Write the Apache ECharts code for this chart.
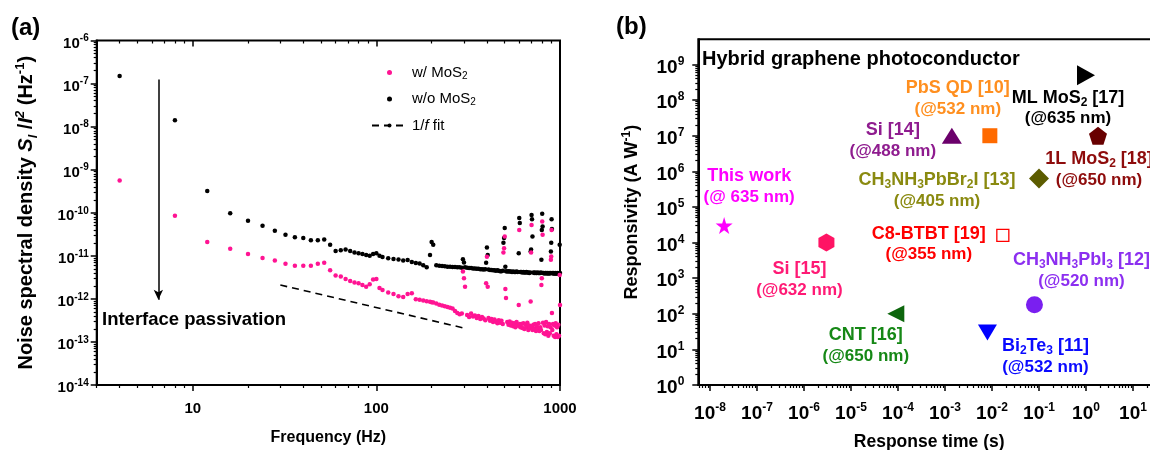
<!DOCTYPE html>
<html>
<head>
<meta charset="utf-8">
<script src="https://cdn.jsdelivr.net/npm/echarts@6/dist/echarts.min.js"></script>
<style>
  html, body { margin: 0; padding: 0; background: #fff; }
  #chart { width: 1150px; height: 450px; }
</style>
</head>
<body>
<div id="chart"></div>
<script>
// ---------- panel (a): noise spectra ----------
const freq = [
  4, 8, 12, 16, 20, 24, 28, 32, 36, 40, 44, 48, 52, 56, 60, 64, 68, 72, 76, 80, 84, 88, 92, 96, 100, 104,
  108, 116, 124, 132, 140, 148, 156, 164, 172, 180, 188, 196, 200, 204, 212, 220, 228, 236, 244, 252, 260, 268, 276, 284, 292,
  296, 300, 304, 312, 320, 328, 336, 344, 352, 360, 368, 376, 384, 392, 396, 400, 404, 408, 416, 424, 432, 440, 448, 456, 464, 472, 480, 488,
  492, 496, 500, 504, 508, 516, 524, 532, 540, 548, 556, 564, 572, 580, 588, 596, 600, 604,
  608, 616, 624, 632, 640, 648, 656, 664, 672, 680, 688, 692, 696, 700, 704, 708,
  716, 724, 732, 740, 748, 756, 764, 772, 780, 788, 792, 796, 800, 804,
  808, 816, 824, 832, 840, 848, 856, 864, 872, 880, 888, 892, 896, 900, 904,
  908, 916, 924, 932, 940, 948, 956, 964, 972, 980, 988, 996, 1000
];
// w/o MoS2 (black)
const noiseWithout = [
  1.5e-7, 1.4e-8, 3.2e-10, 9.8e-11, 6.5e-11, 5.0e-11, 3.8e-11, 3.1e-11, 2.7e-11, 2.6e-11, 2.3e-11, 2.3e-11, 2.4e-11, 1.8e-11, 1.3e-11, 1.35e-11, 1.4e-11, 1.3e-11, 1.2e-11, 1.15e-11, 1.1e-11, 1.05e-11, 1.0e-11, 1.1e-11, 1.15e-11, 1.0e-11,
  9.4e-12, 8.8e-12, 8.4e-12, 8.2e-12, 7.8e-12, 8.0e-12, 7.2e-12, 6.8e-12, 6.6e-12, 6.0e-12, 5.4e-12, 1.05e-11, 2.1e-11, 1.8e-11, 6.0e-12, 5.9e-12, 5.8e-12, 5.7e-12, 5.6e-12, 5.6e-12, 5.5e-12, 5.5e-12, 5.4e-12, 5.4e-12, 5.3e-12,
  8.3e-12, 7.0e-12, 5.4e-12, 5.3e-12, 5.2e-12, 5.2e-12, 5.1e-12, 5.1e-12, 5.0e-12, 5.0e-12, 4.9e-12, 4.9e-12, 4.8e-12, 4.9e-12, 6.9e-12, 1.55e-11, 1.05e-11, 4.8e-12, 4.7e-12, 4.7e-12, 4.6e-12, 4.6e-12, 4.5e-12, 4.6e-12, 4.5e-12, 4.4e-12, 4.4e-12, 4.5e-12,
  2.0e-11, 2.6e-11, 4.4e-11, 5.6e-12, 4.4e-12, 4.3e-12, 4.4e-12, 4.3e-12, 4.3e-12, 4.2e-12, 4.3e-12, 4.2e-12, 4.2e-12, 4.3e-12, 4.2e-12, 1.15e-11, 7.6e-11, 5.8e-11,
  4.2e-12, 4.2e-12, 4.1e-12, 4.2e-12, 4.1e-12, 4.1e-12, 4.2e-12, 4.1e-12, 4.1e-12, 4.0e-12, 4.1e-12, 1.26e-11, 1.4e-11, 8.9e-11, 7.1e-11, 2.8e-11,
  4.1e-12, 4.0e-12, 4.1e-12, 4.0e-12, 4.0e-12, 4.1e-12, 4.0e-12, 4.0e-12, 4.0e-12, 4.1e-12, 8.1e-12, 4.0e-11, 9.5e-11, 4.8e-11,
  4.0e-12, 4.0e-12, 3.9e-12, 4.0e-12, 4.0e-12, 3.9e-12, 4.0e-12, 3.9e-12, 4.0e-12, 3.9e-12, 4.0e-12, 1.26e-11, 2.0e-11, 7.1e-11, 4.2e-11,
  4.0e-12, 3.9e-12, 4.0e-12, 3.9e-12, 3.9e-12, 4.0e-12, 3.9e-12, 3.9e-12, 4.0e-12, 3.9e-12, 3.9e-12, 1.8e-11, 4.0e-12
];
// w/ MoS2 (pink)
const noiseWith = [
  5.6e-10, 8.5e-11, 2.1e-11, 1.45e-11, 1.1e-11, 8.9e-12, 7.8e-12, 6.5e-12, 5.9e-12, 5.9e-12, 5.9e-12, 6.5e-12, 6.9e-12, 4.6e-12, 3.5e-12, 3.3e-12, 2.9e-12, 2.6e-12, 2.4e-12, 2.3e-12, 2.1e-12, 1.9e-12, 2.2e-12, 2.8e-12, 2.9e-12, 1.8e-12,
  1.6e-12, 1.4e-12, 1.3e-12, 1.15e-12, 1.1e-12, 1.3e-12, 1.35e-12, 9.8e-13, 9.5e-13, 9.2e-13, 8.8e-13, 8.6e-13, 8.4e-13, 8.2e-13, 7.8e-13, 7.3e-13, 7.0e-13, 6.7e-13, 6.5e-13, 6.2e-13, 6.0e-13, 5.2e-13, 4.7e-13, 4.4e-13, 4.6e-13,
  4.3e-12, 3.0e-12, 1.9e-12, 4.2e-13, 3.8e-13, 4.6e-13, 3.9e-13, 4.1e-13, 3.6e-13, 4.0e-13, 3.4e-13, 3.8e-13, 3.5e-13, 3.2e-13, 2.3e-12, 9.5e-12, 1.9e-12, 3.6e-13, 3.1e-13, 3.4e-13, 2.9e-13, 3.3e-13, 3.0e-13, 2.7e-13, 3.2e-13, 2.8e-13, 3.1e-13, 2.6e-13,
  1.2e-11, 1.5e-11, 2.8e-11, 1.7e-12, 1.05e-12, 2.9e-13, 2.5e-13, 3.0e-13, 2.4e-13, 2.8e-13, 2.3e-13, 2.7e-13, 2.2e-13, 2.9e-13, 2.4e-13, 7.2e-13, 4.0e-11, 2.6e-13,
  2.2e-13, 2.6e-13, 2.1e-13, 2.7e-13, 2.0e-13, 2.5e-13, 2.2e-13, 2.8e-13, 1.9e-13, 2.4e-13, 2.1e-13, 8.7e-13, 1.2e-11, 5.2e-11, 2.3e-13, 1.9e-13,
  2.5e-13, 2.0e-13, 2.6e-13, 1.8e-13, 2.3e-13, 2.0e-13, 2.7e-13, 1.8e-13, 2.2e-13, 1.9e-13, 2.1e-12, 3.0e-12, 6.3e-11, 3.1e-11,
  2.8e-13, 1.6e-13, 2.4e-13, 1.5e-13, 2.9e-13, 1.7e-13, 2.3e-13, 1.4e-13, 2.6e-13, 1.6e-13, 2.2e-13, 8.1e-12, 9.6e-12, 4.0e-11, 4.7e-13,
  1.9e-13, 2.6e-13, 1.4e-13, 2.4e-13, 1.3e-13, 2.7e-13, 1.5e-13, 2.2e-13, 1.3e-13, 2.5e-13, 1.4e-13, 3.6e-12, 7.2e-13
];
const fitFreq = [30, 300];
const fitNoise = [2.1e-12, 2.1e-13];
const arrowFreq = [6.5, 6.5];
const arrowNoise = [1.25e-7, 9.5e-13];

const aFreqTicks = [10, 100, 1000];
const aNoiseTicks = [1e-14, 1e-13, 1e-12, 1e-11, 1e-10, 1e-9, 1e-8, 1e-7, 1e-6];

// ---------- panel (b): responsivity vs response time ----------
const devNames = [
  'This work', 'Si [15]', 'CNT [16]', 'Bi{sub|2}Te{sub|3} [11]', 'CH{sub|3}NH{sub|3}PbI{sub|3} [12]',
  'C8-BTBT [19]', 'Si [14]', 'PbS QD [10]', 'ML MoS{sub|2} [17]', '1L MoS{sub|2} [18]', 'CH{sub|3}NH{sub|3}PbBr{sub|2}I [13]'
];
const devWavelengths = [
  '(@ 635 nm)', '(@632 nm)', '(@650 nm)', '(@532 nm)', '(@520 nm)',
  '(@355 nm)', '(@488 nm)', '(@532 nm)', '(@635 nm)', '(@650 nm)', '(@405 nm)'
];
const devTimes = [2e-8, 3e-6, 9e-5, 8e-3, 0.08, 0.017, 1.4e-3, 9e-3, 1, 1.8, 0.1];
const devResp = [3e4, 1e4, 100, 30, 180, 1.6e4, 1e7, 1e7, 5e8, 1e7, 6.3e5];

const bTimeTicks = [1e-8, 1e-7, 1e-6, 1e-5, 1e-4, 1e-3, 1e-2, 1e-1, 1, 10, 100];
const bRespTicks = [1, 10, 100, 1e3, 1e4, 1e5, 1e6, 1e7, 1e8, 1e9];

// marker look for each device (same order as devNames)
const devStyles = [
  { symbol: 'path://M50,0 L61,35 L98,35 L68,57 L79,91 L50,70 L21,91 L32,57 L2,35 L39,35 Z', size: 17, fill: '#ff00ff', text: '#ff00ff', offset: [25, -39] },
  { symbol: 'path://M50,0 L93,25 L93,75 L50,100 L7,75 L7,25 Z', size: [16, 18], fill: '#ff1464', text: '#ff1a75', offset: [-27, 37] },
  { symbol: 'path://M0,50 L100,0 L100,100 Z', size: [17, 17], fill: '#0d660d', text: '#168816', offset: [-30, 32] },
  { symbol: 'path://M0,0 L100,0 L50,100 Z', size: [19, 16], fill: '#0000ff', text: '#0a0aff', offset: [58, 24] },
  { symbol: 'circle', size: 17, fill: '#7a1ff0', text: '#8c2ff0', offset: [47, -34] },
  { symbol: 'rect', size: 12, fill: '#ffffff', border: '#ff0000', text: '#ff0000', offset: [-74, 9] },
  { symbol: 'triangle', size: [20, 16], fill: '#6b006b', text: '#8f1c8f', offset: [-59, 5] },
  { symbol: 'rect', size: 15, fill: '#ff6a00', text: '#ff8f1f', offset: [-32, -37] },
  { symbol: 'path://M0,0 L100,50 L0,100 Z', size: [18, 20], fill: '#000000', text: '#000000', offset: [-18, 33] },
  { symbol: 'path://M50,0 L98,35 L79,91 L21,91 L2,35 Z', size: 18, fill: '#680000', text: '#8e0c0c', offset: [1, 34] },
  { symbol: 'diamond', size: 20, fill: '#5c5c00', text: '#8a8a10', offset: [-102, 12] }
];

const FONT = 'Liberation Sans, Arial, sans-serif';

function minorTicks(lo, hi) {
  const out = [];
  for (let e = lo; e < hi; e++) {
    for (let k = 2; k <= 9; k++) out.push(k * Math.pow(10, e));
  }
  return out;
}

const powLabel = v => '{b|10}{s|' + Math.round(Math.log10(v)) + '}';

function tickAxis(extra) {
  // a bare axis that only draws ticks (used for minor ticks / mirrored sides)
  return Object.assign({
    type: 'log',
    axisLine: { show: false, onZero: false },
    axisLabel: { show: false },
    splitLine: { show: false },
    silent: true
  }, extra);
}

var chart = echarts.init(document.getElementById('chart'));

const legendText = {
  'w/ MoS2': 'w/ MoS{sub|2}',
  'w/o MoS2': 'w/o MoS{sub|2}',
  '1/f fit': '1/{it|f} fit'
};

const option = {
  animation: false,
  grid: [
    { left: 96.7, top: 40.5, width: 463.3, height: 344.5, show: true, borderColor: '#000', borderWidth: 2, outerBoundsMode: 'none' },
    { left: 698.3, top: 39.3, width: 481.7, height: 345.7, show: true, borderColor: '#000', borderWidth: 2, outerBoundsMode: 'none' }
  ],
  legend: {
    data: ['w/ MoS2', 'w/o MoS2', '1/f fit'],
    orient: 'vertical',
    left: 366, top: 59,
    itemWidth: 35, itemHeight: 5, itemGap: 9.5, itemTextGap: 6,
    selectedMode: false,
    formatter: n => legendText[n],
    textStyle: {
      fontFamily: FONT, fontSize: 15, color: '#000', lineHeight: 17,
      rich: {
        sub: { fontSize: 10, verticalAlign: 'bottom', lineHeight: 17 },
        it: { fontStyle: 'italic', fontSize: 15 }
      }
    }
  },
  xAxis: [
    {
      type: 'log', gridIndex: 0, position: 'bottom', min: 3, max: 1000,
      name: 'Frequency (Hz)', nameLocation: 'middle', nameGap: 45,
      nameTextStyle: { fontFamily: FONT, fontSize: 16, fontWeight: 'bold', color: '#000' },
      axisLine: { show: true, onZero: false, lineStyle: { color: '#000', width: 2 } },
      axisTick: { show: true, customValues: aFreqTicks, length: 6, lineStyle: { color: '#000', width: 1.5 } },
      axisLabel: { customValues: aFreqTicks, margin: 16, formatter: v => String(v), fontFamily: FONT, fontSize: 15, fontWeight: 'bold', color: '#000' },
      splitLine: { show: false }
    },
    tickAxis({ gridIndex: 0, position: 'bottom', min: 3, max: 1000,
      axisTick: { show: true, customValues: minorTicks(0, 3), length: 3, lineStyle: { color: '#000', width: 1.2 } } }),
    tickAxis({ gridIndex: 0, position: 'top', min: 3, max: 1000,
      axisTick: { show: true, inside: true, customValues: aFreqTicks, length: 6, lineStyle: { color: '#000', width: 1.5 } } }),
    tickAxis({ gridIndex: 0, position: 'top', min: 3, max: 1000,
      axisTick: { show: true, inside: true, customValues: minorTicks(0, 3), length: 3, lineStyle: { color: '#000', width: 1.2 } } }),
    {
      type: 'log', gridIndex: 1, position: 'bottom', min: 5.64e-9, max: 100,
      name: 'Response time (s)', nameLocation: 'middle', nameGap: 48,
      nameTextStyle: { fontFamily: FONT, fontSize: 17.5, fontWeight: 'bold', color: '#000', padding: [0, 20, 0, 0] },
      axisLine: { show: true, onZero: false, lineStyle: { color: '#000', width: 2 } },
      axisTick: { show: true, customValues: bTimeTicks, length: 6, lineStyle: { color: '#000', width: 1.5 } },
      axisLabel: {
        customValues: bTimeTicks, margin: 14, formatter: powLabel, padding: [3, 0, 0, 0],
        fontFamily: FONT, fontSize: 19, fontWeight: 'bold', color: '#000',
        rich: { b: { fontSize: 19, fontWeight: 'bold', lineHeight: 24 }, s: { fontSize: 12, fontWeight: 'bold', verticalAlign: 'top', lineHeight: 24 } }
      },
      splitLine: { show: false }
    },
    tickAxis({ gridIndex: 1, position: 'bottom', min: 5.64e-9, max: 100,
      axisTick: { show: true, customValues: minorTicks(-9, 2), length: 3, lineStyle: { color: '#000', width: 1.2 } } })
  ],
  yAxis: [
    {
      type: 'log', gridIndex: 0, position: 'left', min: 1e-14, max: 1e-6,
      name: 'Noise spectral density {i|S}{isub|I} /{i|I}{isup|2} (Hz{sup|-1})',
      nameLocation: 'middle', nameGap: 57, nameRotate: 90,
      nameTextStyle: {
        fontFamily: FONT, fontSize: 20, fontWeight: 'bold', color: '#000', lineHeight: 26,
        rich: {
          i: { fontStyle: 'italic', fontWeight: 'bold', fontSize: 20, lineHeight: 26 },
          isub: { fontStyle: 'italic', fontWeight: 'bold', fontSize: 13, verticalAlign: 'bottom', lineHeight: 26 },
          isup: { fontStyle: 'italic', fontWeight: 'bold', fontSize: 13, verticalAlign: 'top', lineHeight: 26 },
          sup: { fontWeight: 'bold', fontSize: 13, verticalAlign: 'top', lineHeight: 26 }
        }
      },
      axisLine: { show: true, onZero: false, lineStyle: { color: '#000', width: 2 } },
      axisTick: { show: true, customValues: aNoiseTicks, length: 6, lineStyle: { color: '#000', width: 1.5 } },
      axisLabel: {
        customValues: aNoiseTicks, margin: 8, formatter: powLabel, padding: [6, 0, 0, 0],
        fontFamily: FONT, fontSize: 15, fontWeight: 'bold', color: '#000',
        rich: { b: { fontSize: 15, fontWeight: 'bold', lineHeight: 20 }, s: { fontSize: 10, fontWeight: 'bold', verticalAlign: 'top', lineHeight: 20 } }
      },
      splitLine: { show: false }
    },
    tickAxis({ gridIndex: 0, position: 'left', min: 1e-14, max: 1e-6,
      axisTick: { show: true, customValues: minorTicks(-14, -6), length: 3, lineStyle: { color: '#000', width: 1.2 } } }),
    {
      type: 'log', gridIndex: 1, position: 'left', min: 1, max: 5.1e9,
      name: 'Responsivity (A W{sup|-1})', nameLocation: 'middle', nameGap: 54, nameRotate: 90,
      nameTextStyle: {
        fontFamily: FONT, fontSize: 18, fontWeight: 'bold', color: '#000', lineHeight: 24,
        rich: { sup: { fontSize: 12, fontWeight: 'bold', verticalAlign: 'top', lineHeight: 24 } }
      },
      axisLine: { show: true, onZero: false, lineStyle: { color: '#000', width: 2 } },
      axisTick: { show: true, customValues: bRespTicks, length: 6, lineStyle: { color: '#000', width: 1.5 } },
      axisLabel: {
        customValues: bRespTicks, margin: 14, formatter: powLabel, padding: [6, 0, 0, 0],
        fontFamily: FONT, fontSize: 19, fontWeight: 'bold', color: '#000',
        rich: { b: { fontSize: 19, fontWeight: 'bold', lineHeight: 24 }, s: { fontSize: 12, fontWeight: 'bold', verticalAlign: 'top', lineHeight: 24 } }
      },
      splitLine: { show: false }
    },
    tickAxis({ gridIndex: 1, position: 'left', min: 1, max: 5.1e9,
      axisTick: { show: true, customValues: minorTicks(0, 9), length: 3, lineStyle: { color: '#000', width: 1.2 } } })
  ],
  series: [
    {
      name: 'w/o MoS2', type: 'scatter', xAxisIndex: 0, yAxisIndex: 0,
      data: freq.map((f, i) => [f, noiseWithout[i]]),
      symbolSize: 4.5, itemStyle: { color: '#000', opacity: 1 }, silent: true
    },
    {
      name: 'w/ MoS2', type: 'scatter', xAxisIndex: 0, yAxisIndex: 0,
      data: freq.map((f, i) => [f, noiseWith[i]]),
      symbolSize: 4.5, itemStyle: { color: '#ff1493', opacity: 1 }, silent: true
    },
    {
      name: '1/f fit', type: 'line', xAxisIndex: 0, yAxisIndex: 0,
      data: fitFreq.map((f, i) => [f, fitNoise[i]]),
      symbol: 'none', silent: true,
      lineStyle: { color: '#000', width: 1.6, type: [7, 5] },
      itemStyle: { color: '#000' },
      markLine: {
        silent: true, symbol: ['none', 'arrow'], symbolSize: [7, 10],
        label: { show: false },
        lineStyle: { color: '#000', width: 1.5, type: 'solid' },
        data: [[{ coord: [arrowFreq[0], arrowNoise[0]] }, { coord: [arrowFreq[1], arrowNoise[1]] }]]
      }
    },
    {
      name: 'devices', type: 'scatter', xAxisIndex: 4, yAxisIndex: 2, silent: true,
      data: devNames.map((n, i) => {
        const st = devStyles[i];
        return {
          value: [devTimes[i], devResp[i]],
          symbol: st.symbol,
          symbolSize: st.size,
          itemStyle: { color: st.fill, opacity: 1, borderColor: st.border || st.fill, borderWidth: st.border ? 1.3 : 0 },
          label: {
            show: true, position: 'inside', offset: st.offset, opacity: 1,
            formatter: n + '\n{w|' + devWavelengths[i] + '}',
            color: st.text, fontFamily: FONT, fontSize: 18, fontWeight: 'bold', lineHeight: 21,
            rich: {
              sub: { fontSize: 12, fontWeight: 'bold', verticalAlign: 'bottom', lineHeight: 21 },
              w: { fontSize: 17, fontWeight: 'bold', lineHeight: 21 }
            }
          }
        };
      })
    }
  ],
  graphic: [
    { type: 'text', x: 11, y: 28, style: { text: '(a)', font: 'bold 24px ' + FONT, fill: '#000', verticalAlign: 'middle' } },
    { type: 'text', x: 616, y: 27, style: { text: '(b)', font: 'bold 24px ' + FONT, fill: '#000', verticalAlign: 'middle' } },
    { type: 'text', x: 102, y: 320, style: { text: 'Interface passivation', font: 'bold 18.5px ' + FONT, fill: '#000', verticalAlign: 'middle' } },
    { type: 'text', x: 702, y: 59, style: { text: 'Hybrid graphene photoconductor', font: 'bold 20px ' + FONT, fill: '#000', verticalAlign: 'middle' } }
  ]
};

chart.setOption(option);
</script>
</body>
</html>
